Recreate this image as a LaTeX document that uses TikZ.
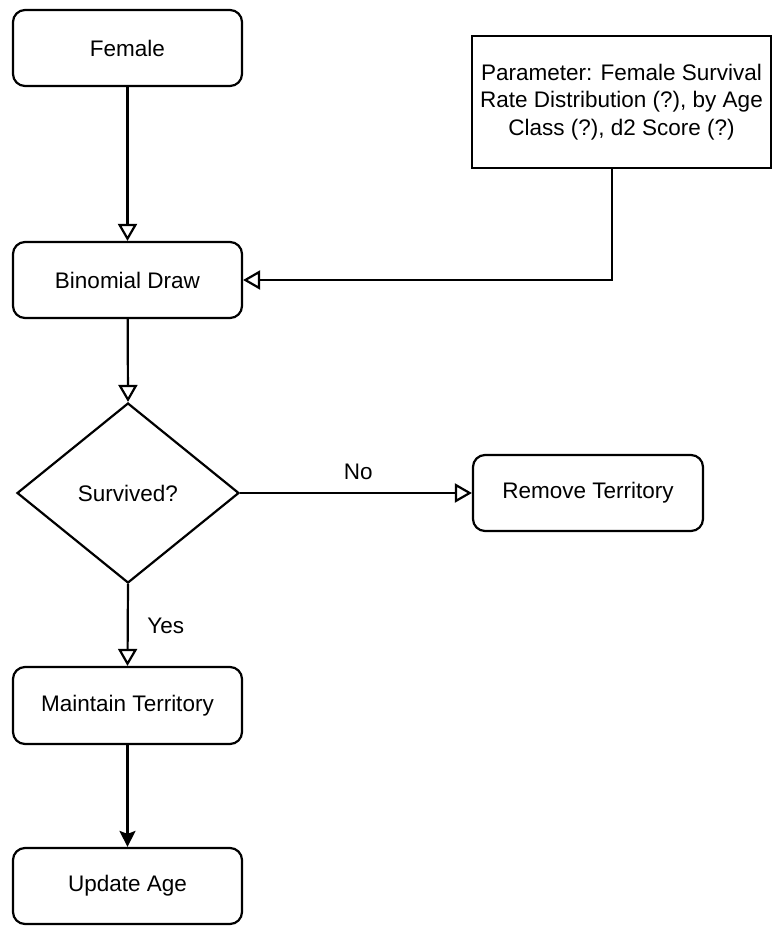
\documentclass[tikz,border=0pt]{standalone}
\usepackage{fontspec}
\setmainfont{Liberation Sans}
\usetikzlibrary{shapes.geometric,arrows.meta}
\begin{document}
\begin{tikzpicture}[x=1pt,y=-1pt,
  every node/.style={font=\fontsize{22.5}{27.5}\selectfont},
  procbox/.style={draw, line width=2.2pt, rounded corners=12pt, minimum width=229pt, minimum height=76pt, inner sep=0pt},
  parambox/.style={draw, line width=2.2pt, minimum width=299pt, minimum height=132pt, align=center, inner sep=0pt},
  decision/.style={draw, line width=2.2pt, diamond, minimum width=222pt, minimum height=180pt, inner sep=0pt},
  openarrow/.style={line width=2.2pt, -{Triangle[open, length=17pt, width=19pt]}},
  fillarrow/.style={line width=2.2pt, -{Stealth[length=16pt, width=16pt, inset=3pt]}},
  edgelabel/.style={inner sep=0pt}
]
\useasboundingbox (0,0) rectangle (782,935);
\node[procbox] (female) at (127.5,48) {Female};
\node[parambox] (param) at (621.5,102) {Parameter: Female Survival\\Rate Distribution (?), by Age\\Class (?), d2 Score (?)};
\node[procbox] (binom) at (127.5,280) {Binomial Draw};
\node[decision] (surv) at (128,493) {Survived?};
\node[procbox, minimum width=230pt] (remove) at (588,493) {Remove Territory};
\node[procbox, minimum height=77pt] (maintain) at (127.5,705.5) {Maintain Territory};
\node[procbox] (update) at (127.5,886) {Update Age};

\draw[openarrow] (female) -- (binom);
\draw[openarrow] ([xshift=-9.5pt]param.south) |- (binom.east);
\draw[openarrow] (binom) -- (surv.north);
\draw[openarrow] (surv.east) -- (remove.west) node[edgelabel, pos=0.51, yshift=21pt] {No};
\draw[openarrow] (surv.south) -- (maintain.north) node[edgelabel, pos=0.5, xshift=38pt, yshift=-1pt] {Yes};
\draw[fillarrow] (maintain) -- (update);
\end{tikzpicture}
\end{document}
